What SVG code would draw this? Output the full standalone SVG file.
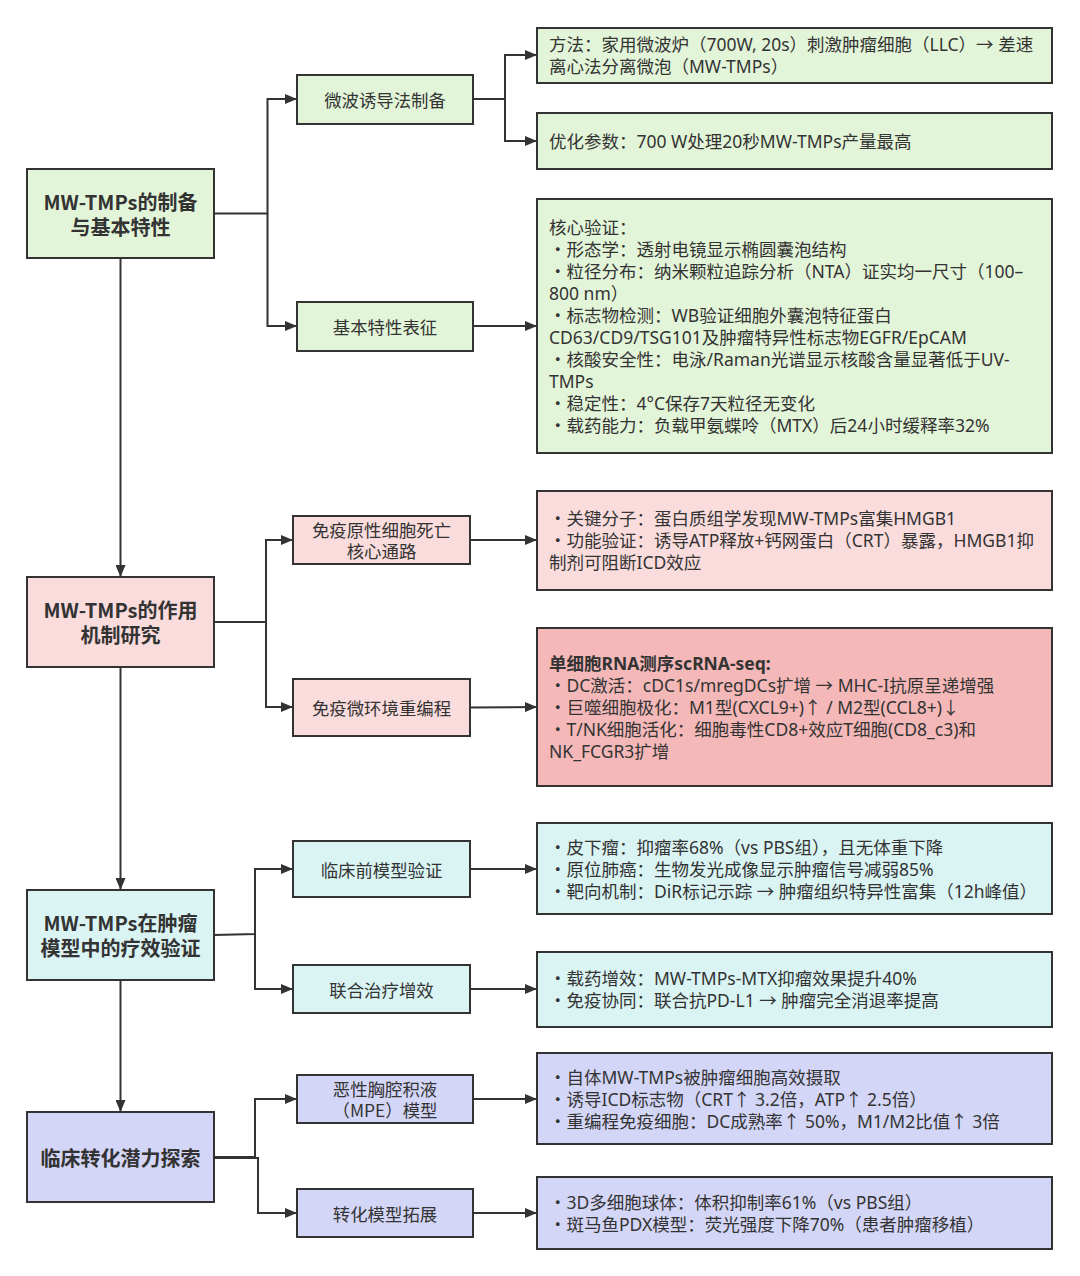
<svg xmlns="http://www.w3.org/2000/svg" width="1080" height="1276" viewBox="0 0 1080 1276">
<defs>
<marker id="arr" viewBox="0 0 12 10" refX="12" refY="5" markerWidth="12" markerHeight="10" markerUnits="userSpaceOnUse" orient="auto">
<path d="M0,0 L12,5 L0,10 Z" fill="#333"/>
</marker>
<style>
.box{stroke:#333;stroke-width:2}
.g{fill:#e3f5d9}
.p{fill:#fadcdc}
.pp{fill:#f4b8b8}
.c{fill:#daf4f3}
.l{fill:#d4d6f7}
text{font-family:"Noto Sans CJK SC","Noto Sans",sans-serif;fill:#333;dominant-baseline:central}
.main{font-size:20px;font-weight:bold;text-anchor:middle}
.sub{font-size:17.4px;text-anchor:middle}
.det{font-size:17.5px;font-family:"Noto Sans","Noto Sans CJK SC",sans-serif}
.b{font-weight:bold}
.ln{fill:none;stroke:#333;stroke-width:2}
</style>
</defs>
<rect width="1080" height="1276" fill="#ffffff"/>

<g id="connectors">
<path class="ln" d="M120.5,258 L120.5,577" marker-end="url(#arr)"/>
<path class="ln" d="M120.5,667 L120.5,890" marker-end="url(#arr)"/>
<path class="ln" d="M120.5,980 L120.5,1112" marker-end="url(#arr)"/>

<path class="ln" d="M214,213.5 L267.5,213.5 L267.5,99 L297,99" marker-end="url(#arr)"/>
<path class="ln" d="M267.5,213.5 L267.5,326 L297,326" marker-end="url(#arr)"/>
<path class="ln" d="M473,99 L505,99 L505,55 L537,55" marker-end="url(#arr)"/>
<path class="ln" d="M505,99 L505,141 L537,141" marker-end="url(#arr)"/>
<path class="ln" d="M473,326 L537,326" marker-end="url(#arr)"/>

<path class="ln" d="M214,622 L266,622 L266,540 L293,540" marker-end="url(#arr)"/>
<path class="ln" d="M266,622 L266,707 L293,707" marker-end="url(#arr)"/>
<path class="ln" d="M470,540 L537,540" marker-end="url(#arr)"/>
<path class="ln" d="M470,707.5 L537,707" marker-end="url(#arr)"/>

<path class="ln" d="M214,935 L255,934 L255,869 L293,869" marker-end="url(#arr)"/>
<path class="ln" d="M255,934 L255,989 L293,989" marker-end="url(#arr)"/>
<path class="ln" d="M470,869 L537,869" marker-end="url(#arr)"/>
<path class="ln" d="M470,989 L537,989" marker-end="url(#arr)"/>

<path class="ln" d="M214,1157 L255,1157 L255,1099 L297,1099" marker-end="url(#arr)"/>
<path class="ln" d="M214,1158 L258,1158 L258,1213 L297,1213" marker-end="url(#arr)"/>
<path class="ln" d="M473,1099 L537,1099" marker-end="url(#arr)"/>
<path class="ln" d="M473,1213 L537,1213" marker-end="url(#arr)"/>
</g>

<g id="node-prep">
<rect class="box g" x="27" y="169" width="187" height="89"/>
<text class="main" x="120.5" y="201">MW-TMPs的制备</text>
<text class="main" x="120.5" y="226">与基本特性</text>
</g>
<g id="node-microwave">
<rect class="box g" x="297" y="75" width="176" height="49"/>
<text class="sub" x="385" y="99.5">微波诱导法制备</text>
</g>
<g id="node-char">
<rect class="box g" x="297" y="302" width="176" height="49"/>
<text class="sub" x="385" y="326.5">基本特性表征</text>
</g>
<g id="detail-method">
<rect class="box g" x="537" y="28" width="515" height="55"/>
<text class="det" x="549" y="44">方法：家用微波炉（700W, 20s）刺激肿瘤细胞（LLC）→ 差速</text>
<text class="det" x="549" y="66">离心法分离微泡（MW-TMPs）</text>
</g>
<g id="detail-opt">
<rect class="box g" x="537" y="113" width="515" height="56"/>
<text class="det" x="549" y="141">优化参数：700 W处理20秒MW-TMPs产量最高</text>
</g>
<g id="detail-char">
<rect class="box g" x="537" y="199" width="515" height="254"/>
<text class="det" x="549" y="227">核心验证：</text>
<text class="det" x="549" y="249">・形态学：透射电镜显示椭圆囊泡结构</text>
<text class="det" x="549" y="271">・粒径分布：纳米颗粒追踪分析（NTA）证实均一尺寸（100–</text>
<text class="det" x="549" y="293">800 nm）</text>
<text class="det" x="549" y="315">・标志物检测：WB验证细胞外囊泡特征蛋白</text>
<text class="det" x="549" y="337">CD63/CD9/TSG101及肿瘤特异性标志物EGFR/EpCAM</text>
<text class="det" x="549" y="359">・核酸安全性：电泳/Raman光谱显示核酸含量显著低于UV-</text>
<text class="det" x="549" y="381">TMPs</text>
<text class="det" x="549" y="403">・稳定性：4°C保存7天粒径无变化</text>
<text class="det" x="549" y="425">・载药能力：负载甲氨蝶呤（MTX）后24小时缓释率32%</text>
</g>

<g id="node-mech">
<rect class="box p" x="27" y="577" width="187" height="90"/>
<text class="main" x="120.5" y="609.5">MW-TMPs的作用</text>
<text class="main" x="120.5" y="634.5">机制研究</text>
</g>
<g id="node-icd">
<rect class="box p" x="293" y="516" width="177" height="48"/>
<text class="sub" x="381.5" y="529.5">免疫原性细胞死亡</text>
<text class="sub" x="381.5" y="550.5">核心通路</text>
</g>
<g id="node-tme">
<rect class="box p" x="293" y="679" width="177" height="57"/>
<text class="sub" x="381.5" y="707.5">免疫微环境重编程</text>
</g>
<g id="detail-icd">
<rect class="box p" x="537" y="491" width="515" height="99"/>
<text class="det" x="549" y="518">・关键分子：蛋白质组学发现MW-TMPs富集HMGB1</text>
<text class="det" x="549" y="540">・功能验证：诱导ATP释放+钙网蛋白（CRT）暴露，HMGB1抑</text>
<text class="det" x="549" y="562">制剂可阻断ICD效应</text>
</g>
<g id="detail-tme">
<rect class="box pp" x="537" y="628" width="515" height="158"/>
<text class="det b" x="549" y="663">单细胞RNA测序scRNA-seq:</text>
<text class="det" x="549" y="685">・DC激活：cDC1s/mregDCs扩增 → MHC-I抗原呈递增强</text>
<text class="det" x="549" y="707">・巨噬细胞极化：M1型(CXCL9+)↑ / M2型(CCL8+)↓</text>
<text class="det" x="549" y="729">・T/NK细胞活化：细胞毒性CD8+效应T细胞(CD8_c3)和</text>
<text class="det" x="549" y="751">NK_FCGR3扩增</text>
</g>

<g id="node-eff">
<rect class="box c" x="27" y="890" width="187" height="90"/>
<text class="main" x="120.5" y="922.5">MW-TMPs在肿瘤</text>
<text class="main" x="120.5" y="947.5">模型中的疗效验证</text>
</g>
<g id="node-preclin">
<rect class="box c" x="293" y="841" width="177" height="56"/>
<text class="sub" x="381.5" y="869">临床前模型验证</text>
</g>
<g id="node-combo">
<rect class="box c" x="293" y="965" width="177" height="48"/>
<text class="sub" x="381.5" y="989">联合治疗增效</text>
</g>
<g id="detail-preclin">
<rect class="box c" x="537" y="823" width="515" height="91"/>
<text class="det" x="549" y="847">・皮下瘤：抑瘤率68%（vs PBS组），且无体重下降</text>
<text class="det" x="549" y="869">・原位肺癌：生物发光成像显示肿瘤信号减弱85%</text>
<text class="det" x="549" y="891">・靶向机制：DiR标记示踪 → 肿瘤组织特异性富集（12h峰值）</text>
</g>
<g id="detail-combo">
<rect class="box c" x="537" y="952" width="515" height="75"/>
<text class="det" x="549" y="978">・载药增效：MW-TMPs-MTX抑瘤效果提升40%</text>
<text class="det" x="549" y="1000">・免疫协同：联合抗PD-L1 → 肿瘤完全消退率提高</text>
</g>

<g id="node-clin">
<rect class="box l" x="27" y="1112" width="187" height="90"/>
<text class="main" x="120.5" y="1157">临床转化潜力探索</text>
</g>
<g id="node-mpe">
<rect class="box l" x="297" y="1075" width="176" height="48"/>
<text class="sub" x="385" y="1088.5">恶性胸腔积液</text>
<text class="sub" x="385" y="1109.5">（MPE）模型</text>
</g>
<g id="node-trans">
<rect class="box l" x="297" y="1189" width="176" height="48"/>
<text class="sub" x="385" y="1213">转化模型拓展</text>
</g>
<g id="detail-mpe">
<rect class="box l" x="537" y="1053" width="515" height="91"/>
<text class="det" x="549" y="1077">・自体MW-TMPs被肿瘤细胞高效摄取</text>
<text class="det" x="549" y="1099">・诱导ICD标志物（CRT↑ 3.2倍，ATP↑ 2.5倍）</text>
<text class="det" x="549" y="1121">・重编程免疫细胞：DC成熟率↑ 50%，M1/M2比值↑ 3倍</text>
</g>
<g id="detail-trans">
<rect class="box l" x="537" y="1177" width="515" height="72"/>
<text class="det" x="549" y="1202">・3D多细胞球体：体积抑制率61%（vs PBS组）</text>
<text class="det" x="549" y="1224">・斑马鱼PDX模型：荧光强度下降70%（患者肿瘤移植）</text>
</g>
</svg>
